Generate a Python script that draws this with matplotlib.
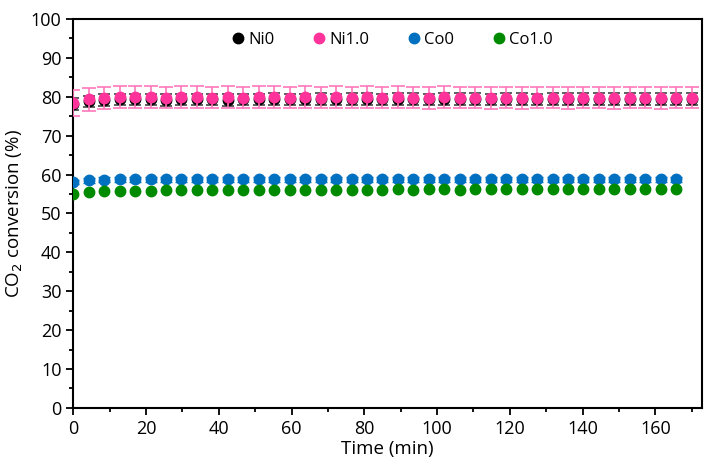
import matplotlib
matplotlib.use('Agg')
import matplotlib.pyplot as plt
from matplotlib.ticker import MultipleLocator

plt.rcParams['font.family'] = ['Open Sans', 'DejaVu Sans']

# sampling times (min)
time = [0, 4.25, 8.5, 12.75, 17, 21.25, 25.5, 29.75, 34, 38.25, 42.5, 46.75, 51, 55.25,
        59.5, 63.75, 68, 72.25, 76.5, 80.75, 85, 89.25, 93.5, 97.75, 102, 106.25, 110.5,
        114.75, 119, 123.25, 127.5, 131.75, 136, 140.25, 144.5, 148.75, 153, 157.25,
        161.5, 165.75, 170]

ni0 = [78.2, 78.8, 79.1, 79.3, 79.3, 79.3, 79.2, 79.3, 79.3, 79.3, 79.2, 79.3, 79.3, 79.4,
       79.3, 79.3, 79.4, 79.3, 79.4, 79.4, 79.3, 79.4, 79.4, 79.3, 79.4, 79.4, 79.4, 79.3,
       79.4, 79.4, 79.3, 79.4, 79.4, 79.5, 79.4, 79.5, 79.5, 79.4, 79.5, 79.5, 79.5]
ni0_err = [1.5] * 41

ni1 = [78.4, 79.3, 79.7, 79.9, 79.9, 79.9, 79.8, 79.9, 79.9, 79.8, 79.9, 79.8, 79.9, 79.9,
       79.8, 79.9, 79.8, 79.9, 79.8, 79.9, 79.8, 79.9, 79.8, 79.7, 79.9, 79.8, 79.8, 79.7,
       79.8, 79.7, 79.8, 79.8, 79.7, 79.8, 79.8, 79.7, 79.8, 79.8, 79.7, 79.8, 79.8]
ni1_err = [3.4, 3.0, 2.8, 2.8, 2.8, 2.8, 2.8, 2.8, 2.8, 2.8, 2.8, 2.8, 2.8, 2.8,
           2.8, 2.8, 2.8, 2.8, 2.8, 2.8, 2.8, 2.8, 2.8, 2.8, 2.8, 2.8, 2.8, 2.8,
           2.8, 2.8, 2.8, 2.8, 2.8, 2.8, 2.8, 2.8, 2.8, 2.8, 2.8, 2.8, 2.8]

co0 = [58.1, 58.5, 58.7, 58.8, 58.8, 58.8, 58.8, 58.8, 58.8, 58.8, 58.8, 58.8, 58.8, 58.8,
       58.8, 58.8, 58.8, 58.8, 58.8, 58.8, 58.8, 58.8, 58.8, 58.8, 58.8, 58.8, 58.8, 58.8,
       58.8, 58.8, 58.8, 58.8, 58.8, 58.8, 58.8, 58.8, 58.8, 58.8, 58.8, 58.8]
co0_err = [0.6] * 40

co1 = [55.0, 55.4, 55.7, 55.8, 55.8, 55.8, 55.9, 55.9, 55.9, 55.9, 56.0, 55.9, 56.1, 56.1,
       56.0, 56.1, 55.9, 56.1, 56.1, 56.1, 56.1, 56.2, 56.1, 56.2, 56.2, 56.1, 56.3, 56.2,
       56.3, 56.3, 56.2, 56.3, 56.3, 56.3, 56.4, 56.3, 56.4, 56.4, 56.4, 56.4]
co1_err = [0.3] * 40

fig = plt.figure(figsize=(7.04, 4.63), dpi=100)
ax = fig.add_axes([0.104, 0.119, 0.893, 0.840])

ax.errorbar(time, ni0, yerr=ni0_err, fmt='o', color='black', ms=7.5,
            ecolor='#444444', elinewidth=1.2, capsize=4, capthick=1.2, label='Ni0', zorder=2)
ax.errorbar(time, ni1, yerr=ni1_err, fmt='o', color='#FF3399', ms=7.5,
            ecolor='#FF77BB', elinewidth=1.2, capsize=5, capthick=1.2, label='Ni1.0', zorder=3)
ax.errorbar(time[:40], co0, yerr=co0_err, fmt='o', color='#0070C0', ms=7.5,
            ecolor='#0070C0', elinewidth=1.0, capsize=4, capthick=1.0, label='Co0', zorder=3)
ax.errorbar(time[:40], co1, yerr=co1_err, fmt='o', color='#008A00', ms=7.5,
            ecolor='#008A00', elinewidth=1.0, capsize=3, capthick=1.0, label='Co1.0', zorder=3)

ax.set_xlim(0, 172.8)
ax.set_ylim(0, 100)
ax.xaxis.set_major_locator(MultipleLocator(20))
ax.xaxis.set_minor_locator(MultipleLocator(10))
ax.yaxis.set_major_locator(MultipleLocator(10))
ax.yaxis.set_minor_locator(MultipleLocator(5))
ax.tick_params(which='major', direction='out', length=5, width=1.3, labelsize=13, colors='black')
ax.tick_params(which='minor', direction='out', length=3, width=1.3)
for s in ax.spines.values():
    s.set_linewidth(1.5)

ax.set_xlabel('Time (min)', fontsize=13.5, labelpad=2)
ax.set_ylabel('CO$_2$ conversion (%)', fontsize=13.5, labelpad=4)

handles, labels = ax.get_legend_handles_labels()
handles = [h[0] for h in handles]
ax.legend(handles, labels, loc='upper center', bbox_to_anchor=(0.505, 1.005), ncol=4,
          frameon=False, fontsize=12, handletextpad=0.0, columnspacing=2.1,
          handlelength=1.2, markerscale=1.0)

fig.savefig('out.png', dpi=100)
